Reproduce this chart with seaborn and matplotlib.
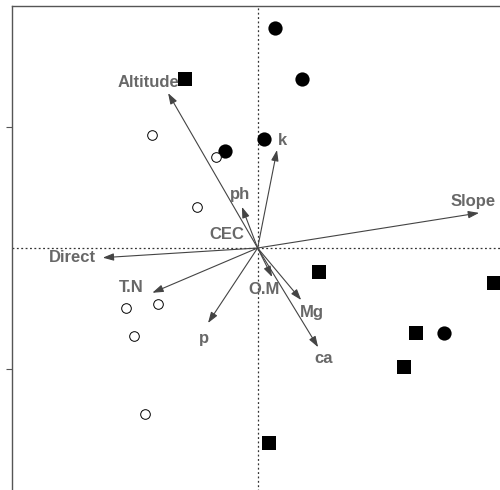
import numpy as np
import pandas as pd
import matplotlib
matplotlib.use('Agg')
import matplotlib.pyplot as plt
import seaborn as sns

# site scores
filled_x = [0.14, 0.37, -0.27, 0.05, 1.54]
filled_y = [1.82, 1.40, 0.80, 0.90, -0.70]
square_x = [-0.60, 0.51, 1.95, 1.31, 1.21, 0.09]
square_y = [1.40, -0.20, -0.29, -0.70, -0.98, -1.61]
open_x = [-0.87, -0.34, -0.50, -1.09, -0.82, -1.02, -0.93]
open_y = [0.93, 0.75, 0.34, -0.50, -0.46, -0.73, -1.37]

# environmental vectors (biplot scores)
env_names = ['Altitude', 'ph', 'k', 'Slope', 'Direct', 'T.N', 'p', 'O.M', 'Mg', 'ca', 'CEC']
env_x = [-0.74, -0.13, 0.16, 1.83, -1.28, -0.87, -0.41, 0.12, 0.36, 0.50, 0.0]
env_y = [1.28, 0.34, 0.81, 0.29, -0.08, -0.37, -0.62, -0.24, -0.43, -0.82, 0.0]

# label offsets from the arrow tip, in points
label_offset = {
    'Altitude': (-14, 8), 'ph': (-1, 9), 'k': (4, 7), 'Slope': (-4, 8),
    'Direct': (-22, 0), 'T.N': (-15, 4), 'p': (-3, -11), 'O.M': (-6, -9),
    'Mg': (8, -9), 'ca': (4, -8), 'CEC': (-22, 10),
}

sns.set_style('white')
plt.rcParams['font.family'] = ['Liberation Sans', 'DejaVu Sans']

fig = plt.figure(figsize=(5.0, 4.9), dpi=100)
ppu = 121.0  # pixels per unit
x0, x1 = -2.03, 2.10
y0, y1 = -2.05, 2.00
left = 12 / 500
top = 1 - 6 / 490
w = (x1 - x0) * ppu / 500
h = (y1 - y0) * ppu / 490
ax = fig.add_axes([left, top - h, w, h])

df_f = pd.DataFrame({'x': filled_x, 'y': filled_y})
df_s = pd.DataFrame({'x': square_x, 'y': square_y})
df_o = pd.DataFrame({'x': open_x, 'y': open_y})

sns.scatterplot(data=df_f, x='x', y='y', ax=ax, marker='o', s=105,
                color='black', edgecolor='black', linewidth=0, zorder=4)
sns.scatterplot(data=df_s, x='x', y='y', ax=ax, marker='s', s=105,
                color='black', edgecolor='black', linewidth=0, zorder=4)
sns.scatterplot(data=df_o, x='x', y='y', ax=ax, marker='o', s=48,
                facecolor='white', edgecolor='black', linewidth=0.7, zorder=4)

ax.axhline(0, color='#333333', linestyle=(0, (1.5, 2)), linewidth=0.9, zorder=1)
ax.axvline(0, color='#333333', linestyle=(0, (1.5, 2)), linewidth=0.9, zorder=1)

for name, ex, ey in zip(env_names, env_x, env_y):
    if ex != 0 or ey != 0:
        ax.annotate('', xy=(ex, ey), xytext=(0, 0),
                    arrowprops=dict(arrowstyle='-|>,head_length=0.65,head_width=0.22',
                                    color='#444444', lw=0.8, shrinkA=0, shrinkB=0),
                    zorder=3)
    dx, dy = label_offset[name]
    ax.annotate(name, xy=(ex, ey), xytext=(dx, dy), textcoords='offset points',
                ha='center', va='center', fontsize=12, fontweight='bold',
                color='#686868', zorder=5)

ax.set_xlim(x0, x1)
ax.set_ylim(y0, y1)
ax.set_xticks([-1, 1])
ax.set_yticks([-1, 1])
ax.set_xticklabels([])
ax.set_yticklabels([])
ax.tick_params(axis='both', direction='out', length=4, width=0.8,
               color='#555555', left=True, bottom=True)
ax.set_xlabel('')
ax.set_ylabel('')
for side in ['top', 'left', 'right', 'bottom']:
    ax.spines[side].set_color('#555555')
    ax.spines[side].set_linewidth(1.0)

fig.savefig('out.png', dpi=100)
